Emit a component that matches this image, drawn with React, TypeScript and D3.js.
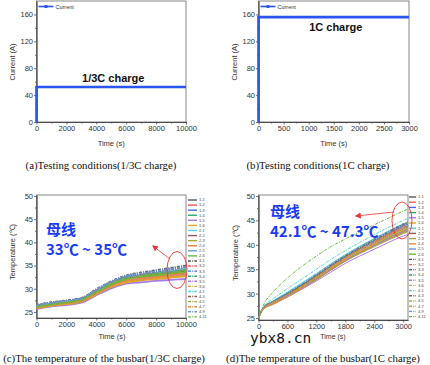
import React, { useEffect, useRef } from "react";
import * as d3 from "d3";

const W = 430;
const H = 365;

// (a)/(b) test current
const curTimeA = [0, 0, 10000];
const curValA = [0, 52, 52];
const curTimeB = [0, 0, 3000];
const curValB = [0, 156, 156];
const curTicks = [0, 40, 80, 120, 160];
const timeTicksA = [0, 2000, 4000, 6000, 8000, 10000];
const timeTicksB = [0, 500, 1000, 1500, 2000, 2500, 3000];

// (c)/(d) busbar probes
const probes = [
  "1-1", "1-2", "1-3", "1-4", "1-5", "1-6",
  "2-1", "2-2", "2-3", "2-4", "2-5", "2-6",
  "3-1", "3-2", "3-3", "3-4", "3-5", "3-6",
  "4-1", "4-3", "4-5", "4-7", "4-9", "4-11",
];
const probeColors = [
  "#555555", "#f05a5a", "#3a6fe0", "#2aa86a", "#a57be8", "#e0a52a",
  "#4fd5d5", "#8c5a5a", "#a3a83a", "#f0883a", "#6b9ad8", "#6aba3a",
];
const tempTicks = [25, 30, 35, 40, 45, 50];
const timeTicksD = [0, 600, 1200, 1800, 2400, 3000];

const timeC = [0, 1000, 2000, 3000, 4000, 5000, 6000, 7000, 8000, 9000, 10000];
const tempC = [
  [26.1, 26.7, 27.1, 27.6, 29.4, 31.1, 32.3, 32.8, 33.2, 33.5, 33.8],
  [25.9, 26.5, 26.9, 27.4, 29.1, 30.8, 31.9, 32.4, 32.8, 33.1, 33.4],
  [25.8, 26.4, 26.8, 27.3, 29.0, 30.6, 31.7, 32.2, 32.6, 32.9, 33.2],
  [26.0, 26.6, 27.0, 27.5, 29.3, 31.0, 32.1, 32.6, 33.0, 33.3, 33.6],
  [25.6, 26.2, 26.5, 27.0, 28.6, 30.1, 31.1, 31.4, 31.7, 31.9, 32.1],
  [25.7, 26.3, 26.7, 27.2, 28.8, 30.4, 31.4, 31.8, 32.1, 32.4, 32.7],
  [26.2, 26.8, 27.2, 27.7, 29.5, 31.2, 32.4, 32.9, 33.3, 33.7, 34.0],
  [26.1, 26.7, 27.1, 27.6, 29.3, 31.0, 32.2, 32.7, 33.1, 33.4, 33.7],
  [25.9, 26.5, 26.9, 27.4, 29.1, 30.7, 31.8, 32.3, 32.7, 33.0, 33.3],
  [25.8, 26.4, 26.8, 27.3, 28.9, 30.5, 31.6, 32.0, 32.4, 32.7, 33.0],
  [26.2, 26.9, 27.3, 27.8, 29.6, 31.3, 32.5, 33.0, 33.4, 33.8, 34.1],
  [26.0, 26.6, 27.0, 27.5, 29.2, 30.9, 32.0, 32.5, 32.9, 33.2, 33.5],
  [26.5, 27.1, 27.5, 28.0, 29.9, 31.6, 32.9, 33.5, 34.0, 34.5, 35.0],
  [26.3, 26.9, 27.3, 27.8, 29.6, 31.3, 32.5, 33.0, 33.5, 33.9, 34.3],
  [26.4, 27.0, 27.4, 27.9, 29.8, 31.5, 32.7, 33.3, 33.8, 34.2, 34.6],
  [26.2, 26.8, 27.2, 27.7, 29.5, 31.2, 32.4, 32.9, 33.3, 33.7, 34.1],
  [25.9, 26.5, 26.9, 27.4, 29.0, 30.7, 31.8, 32.2, 32.6, 32.9, 33.2],
  [25.8, 26.4, 26.8, 27.3, 28.9, 30.5, 31.5, 31.9, 32.2, 32.5, 32.8],
  [26.3, 26.9, 27.3, 27.8, 29.6, 31.3, 32.6, 33.1, 33.6, 34.0, 34.4],
  [26.4, 27.0, 27.4, 27.9, 29.7, 31.4, 32.7, 33.2, 33.7, 34.2, 34.7],
  [26.1, 26.7, 27.1, 27.6, 29.4, 31.1, 32.2, 32.7, 33.1, 33.5, 33.8],
  [25.9, 26.5, 26.9, 27.4, 29.0, 30.7, 31.8, 32.3, 32.6, 33.0, 33.3],
  [26.4, 27.0, 27.4, 27.9, 29.8, 31.5, 32.8, 33.3, 33.8, 34.3, 34.8],
  [26.0, 26.6, 27.0, 27.5, 29.2, 30.9, 32.1, 32.6, 33.0, 33.4, 33.7],
];

const timeD = [0, 100, 300, 600, 900, 1200, 1500, 1800, 2100, 2400, 2700, 3000, 3100];
const tempD = [
  [25.0, 27.1, 28.2, 29.8, 31.6, 33.5, 35.5, 37.4, 39.1, 40.6, 42.1, 43.5, 43.9],
  [25.0, 26.9, 28.0, 29.6, 31.3, 33.1, 35.0, 36.9, 38.5, 40.0, 41.4, 42.8, 43.2],
  [25.0, 27.0, 28.1, 29.7, 31.5, 33.3, 35.2, 37.1, 38.8, 40.3, 41.8, 43.2, 43.6],
  [25.0, 26.9, 28.0, 29.5, 31.2, 33.0, 34.9, 36.7, 38.3, 39.8, 41.2, 42.5, 42.9],
  [25.0, 26.8, 27.8, 29.3, 30.9, 32.6, 34.4, 36.2, 37.7, 39.1, 40.5, 41.8, 42.1],
  [25.0, 27.0, 28.1, 29.7, 31.4, 33.2, 35.2, 37.1, 38.7, 40.2, 41.7, 43.1, 43.5],
  [25.0, 27.2, 28.5, 30.3, 32.2, 34.1, 36.1, 38.0, 39.7, 41.3, 42.8, 44.2, 44.6],
  [25.0, 27.1, 28.3, 29.9, 31.7, 33.6, 35.6, 37.5, 39.2, 40.8, 42.3, 43.8, 44.2],
  [25.0, 26.9, 27.9, 29.4, 31.1, 32.9, 34.8, 36.6, 38.2, 39.6, 41.0, 42.3, 42.7],
  [25.0, 26.8, 27.8, 29.3, 31.0, 32.8, 34.8, 36.7, 38.3, 39.8, 41.2, 42.6, 43.0],
  [25.0, 27.1, 28.3, 30.0, 31.8, 33.7, 35.7, 37.6, 39.3, 40.9, 42.4, 43.9, 44.3],
  [25.0, 27.0, 28.1, 29.6, 31.3, 33.1, 35.0, 36.9, 38.5, 40.0, 41.5, 42.9, 43.3],
  [25.0, 27.2, 28.4, 30.1, 31.9, 33.9, 35.9, 37.8, 39.5, 41.1, 42.7, 44.2, 44.6],
  [25.0, 27.0, 28.2, 29.8, 31.5, 33.4, 35.4, 37.3, 39.0, 40.5, 42.0, 43.4, 43.8],
  [25.0, 27.1, 28.3, 30.0, 31.8, 33.7, 35.7, 37.6, 39.3, 40.9, 42.5, 44.0, 44.4],
  [25.0, 27.1, 28.4, 30.1, 32.0, 33.9, 35.9, 37.8, 39.5, 41.2, 42.8, 44.3, 44.7],
  [25.0, 26.9, 28.0, 29.5, 31.2, 33.0, 34.9, 36.8, 38.4, 39.9, 41.3, 42.7, 43.1],
  [25.0, 27.0, 28.1, 29.7, 31.4, 33.2, 35.1, 37.0, 38.6, 40.1, 41.6, 43.0, 43.4],
  [25.0, 27.3, 28.9, 31.0, 33.0, 35.0, 37.0, 38.8, 40.5, 42.1, 43.6, 45.0, 45.4],
  [25.0, 27.1, 28.3, 30.0, 31.8, 33.7, 35.7, 37.7, 39.4, 41.0, 42.6, 44.1, 44.5],
  [25.0, 27.0, 28.2, 29.8, 31.6, 33.5, 35.5, 37.4, 39.1, 40.7, 42.2, 43.6, 44.0],
  [25.0, 27.0, 28.1, 29.7, 31.5, 33.4, 35.4, 37.3, 39.0, 40.6, 42.1, 43.5, 43.9],
  [25.0, 27.2, 28.4, 30.2, 32.0, 34.0, 36.0, 37.9, 39.6, 41.2, 42.8, 44.3, 44.7],
  [25.0, 27.6, 30.3, 33.2, 35.6, 37.7, 39.6, 41.2, 42.7, 44.1, 45.5, 46.9, 47.3],
];

const SANS = "'Liberation Sans', Arial, sans-serif";
const SERIF = "'Liberation Serif', 'Times New Roman', serif";
const CJK = "'Noto Sans CJK SC', sans-serif";
const BLUE = "#1a3cf5";
const RED = "#e83535";

type Sel = d3.Selection<SVGSVGElement, unknown, null, undefined>;
type Lin = d3.ScaleLinear<number, number>;

const mid = (t: number[]) => t.slice(1).map((v, i) => (v + t[i]) / 2);

function drawAxes(svg: Sel, x: Lin, y: Lin, xTicks: number[], yTicks: number[], fs: number) {
  const [x0, x1] = x.range();
  const [yb, yt] = y.range();

  const style = (g: d3.Selection<SVGGElement, unknown, null, undefined>) => {
    g.selectAll("path,line").attr("stroke", "#333").attr("stroke-width", 0.7);
    g.selectAll("text")
      .attr("fill", "#333")
      .style("font-size", `${fs}px`)
      .style("font-family", SANS);
  };

  const gxm = svg.append("g").attr("transform", `translate(0,${yb})`);
  gxm.call(d3.axisBottom(x).tickValues(mid(xTicks)).tickSize(1.5).tickSizeOuter(0).tickFormat(() => ""));
  style(gxm);
  const gx = svg.append("g").attr("transform", `translate(0,${yb})`);
  gx.call(d3.axisBottom(x).tickValues(xTicks).tickSize(2.5).tickSizeOuter(0).tickPadding(0.8).tickFormat(d3.format("d")));
  style(gx);

  const gym = svg.append("g").attr("transform", `translate(${x0},0)`);
  gym.call(d3.axisLeft(y).tickValues(mid(yTicks)).tickSize(1.5).tickSizeOuter(0).tickFormat(() => ""));
  style(gym);
  const gy = svg.append("g").attr("transform", `translate(${x0},0)`);
  gy.call(d3.axisLeft(y).tickValues(yTicks).tickSize(2.5).tickSizeOuter(0).tickPadding(1).tickFormat(d3.format("d")));
  style(gy);

  svg.append("rect")
    .attr("x", x0).attr("y", yt)
    .attr("width", x1 - x0).attr("height", yb - yt)
    .attr("fill", "none").attr("stroke", "#555").attr("stroke-width", 0.7);
}

function label(svg: Sel, txt: string, x: number, y: number, fs: number, rotate = false) {
  svg.append("text")
    .attr("transform", `translate(${x},${y})${rotate ? " rotate(-90)" : ""}`)
    .attr("text-anchor", "middle")
    .style("font-family", SANS)
    .style("font-size", `${fs}px`)
    .attr("fill", "#333")
    .text(txt);
}

function caption(svg: Sel, txt: string, x: number, y: number) {
  svg.append("text")
    .attr("x", x).attr("y", y)
    .attr("text-anchor", "middle")
    .style("font-family", SERIF)
    .style("font-size", "10.8px")
    .attr("fill", "#111")
    .text(txt);
}

function currentPanel(svg: Sel, x0: number, x1: number, times: number[], vals: number[], xTicks: number[], note: string, noteY: number) {
  const x = d3.scaleLinear().domain([xTicks[0], xTicks[xTicks.length - 1]]).range([x0, x1]);
  const y = d3.scaleLinear().domain([0, 180]).range([122, 1]);
  drawAxes(svg, x, y, xTicks, curTicks, 7.5);

  const line = d3.line<number>().x((_, i) => x(times[i])).y((d) => y(d));
  svg.append("path")
    .attr("d", line(vals))
    .attr("fill", "none")
    .attr("stroke", "#2b55f0")
    .attr("stroke-width", 2.6);

  // legend
  const lx = x0 + 2;
  svg.append("line").attr("x1", lx).attr("x2", lx + 15).attr("y1", 6.5).attr("y2", 6.5)
    .attr("stroke", "#2b55f0").attr("stroke-width", 1.6);
  svg.append("rect").attr("x", lx + 6).attr("y", 5).attr("width", 3).attr("height", 3).attr("fill", "#2b55f0");
  svg.append("text").attr("x", lx + 17).attr("y", 8.5)
    .style("font-family", SANS).style("font-size", "5.5px").attr("fill", "#333").text("Current");

  svg.append("text")
    .attr("x", (x0 + x1) / 2 + 2).attr("y", noteY)
    .attr("text-anchor", "middle")
    .style("font-family", SANS).style("font-size", "11px").style("font-weight", "bold")
    .attr("fill", "#111")
    .text(note);

  label(svg, "Time (s)", (x0 + x1) / 2, 146, 7.5);
  label(svg, "Current (A)", x0 - 22, 62, 7.5, true);
}

function tempPanel(
  svg: Sel, x: Lin, y: Lin, times: number[], temps: number[][], xTicks: number[],
  lw: number, legX: number, legY: number, legStep: number, legLen: number,
) {
  drawAxes(svg, x, y, xTicks, tempTicks, 7.5);
  const [x0, x1] = x.range();
  const [yb, yt] = y.range();
  const clipId = `clip${Math.round(x0)}`;
  svg.append("clipPath").attr("id", clipId)
    .append("rect").attr("x", x0).attr("y", yt).attr("width", x1 - x0).attr("height", yb - yt);

  const line = d3.line<number>().x((_, i) => x(times[i])).y((d) => y(d)).curve(d3.curveMonotoneX);
  const dash = (i: number) => (i >= 12 ? "3,1.2,1,1.2" : null);

  svg.append("g").attr("clip-path", `url(#${clipId})`)
    .selectAll("path")
    .data(temps)
    .join("path")
    .attr("d", (d) => line(d))
    .attr("fill", "none")
    .attr("stroke", (_, i) => probeColors[i % 12])
    .attr("stroke-width", lw)
    .attr("stroke-dasharray", (_, i) => dash(i));

  const leg = svg.append("g")
    .selectAll("g")
    .data(probes)
    .join("g")
    .attr("transform", (_, i) => `translate(${legX},${legY + i * legStep})`);
  leg.append("line")
    .attr("x1", 0).attr("x2", legLen).attr("y1", 0).attr("y2", 0)
    .attr("stroke", (_, i) => probeColors[i % 12])
    .attr("stroke-width", 1.4)
    .attr("stroke-dasharray", (_, i) => dash(i));
  leg.append("text")
    .attr("x", legLen + 2).attr("y", 1.4)
    .style("font-family", SANS).style("font-size", "4px").attr("fill", "#444")
    .text((d) => d);
}

function annotate(svg: Sel, x: number, y1: number, y2: number, range: string) {
  svg.append("text").attr("x", x).attr("y", y1)
    .style("font-family", CJK).style("font-size", "15px").style("font-weight", "bold")
    .attr("fill", BLUE).text("母线");
  svg.append("text").attr("x", x).attr("y", y2)
    .style("font-family", CJK).style("font-size", "15px").style("font-weight", "bold")
    .attr("fill", BLUE).text(range);
}

function redMark(svg: Sel, cx: number, cy: number, ax1: number, ay1: number, ax2: number, ay2: number) {
  svg.append("ellipse").attr("cx", cx).attr("cy", cy).attr("rx", 10).attr("ry", 18.5)
    .attr("fill", "none").attr("stroke", RED).attr("stroke-width", 0.9);
  svg.append("line").attr("x1", ax1).attr("y1", ay1).attr("x2", ax2).attr("y2", ay2)
    .attr("stroke", RED).attr("stroke-width", 0.8).attr("marker-end", "url(#arrowRed)");
}

export default function App() {
  const svgRef = useRef<SVGSVGElement>(null);

  useEffect(() => {
    if (!svgRef.current) return;
    const svg = d3.select(svgRef.current);
    svg.selectAll("*").remove();

    svg.append("rect").attr("width", W).attr("height", H).attr("fill", "#fff");

    svg.append("defs").append("marker")
      .attr("id", "arrowRed")
      .attr("viewBox", "0 0 10 10")
      .attr("refX", 8).attr("refY", 5)
      .attr("markerWidth", 6).attr("markerHeight", 6)
      .attr("markerUnits", "userSpaceOnUse")
      .attr("orient", "auto")
      .append("path").attr("d", "M0,0L10,5L0,10z").attr("fill", RED);

    // (a) and (b)
    currentPanel(svg, 36.5, 186, curTimeA, curValA, timeTicksA, "1/3C charge", 82);
    currentPanel(svg, 258.5, 409, curTimeB, curValB, timeTicksB, "1C charge", 31);
    caption(svg, "(a)Testing conditions(1/3C charge)", 101, 169);
    caption(svg, "(b)Testing conditions(1C charge)", 318, 169);

    // (c)
    const xC = d3.scaleLinear().domain([0, 10000]).range([36.5, 186]);
    const yC = d3.scaleLinear().domain([23.7, 50.2]).range([318, 195]);
    tempPanel(svg, xC, yC, timeC, tempC, timeTicksA, 1.8, 188, 200, 5.08, 9);
    label(svg, "Time (s)", 112, 339, 7.5);
    label(svg, "Temperature (℃)", 15, 252, 7.5, true);
    annotate(svg, 46, 235, 255, "33℃ ~ 35℃");
    redMark(svg, 177, 270, 170, 259, 153, 246);
    caption(svg, "(c)The temperature of the busbar(1/3C charge)", 104, 362);

    // (d)
    const xD = d3.scaleLinear().domain([0, 3100]).range([258.5, 408]);
    const yD = d3.scaleLinear().domain([24.6, 50.2]).range([320, 195]);
    tempPanel(svg, xD, yD, timeD, tempD, timeTicksD, 1.0, 409, 197, 5.2, 7);
    label(svg, "Time (s)", 333, 339, 7);
    label(svg, "Temperature (℃)", 238, 253, 7.5, true);
    annotate(svg, 270, 217, 237, "42.1℃ ~ 47.3℃");
    redMark(svg, 402, 220.5, 394, 212, 356, 216);

    svg.append("text").attr("x", 250).attr("y", 343)
      .style("font-family", "'DejaVu Sans Mono', monospace").style("font-size", "14.5px")
      .attr("fill", "#111").text("ybx8.cn");
    caption(svg, "(d)The temperature of the busbar(1C charge)", 323, 362);
  }, []);

  return (
    <svg
      ref={svgRef}
      width={W}
      height={H}
      style={{ position: "absolute", left: 0, top: 0, display: "block" }}
    />
  );
}
